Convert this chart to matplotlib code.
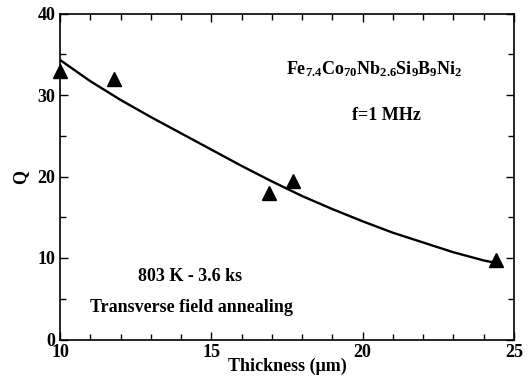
import matplotlib
matplotlib.use("Agg")
import matplotlib.pyplot as plt
from matplotlib.ticker import MultipleLocator

plt.rcParams['font.family'] = ['Liberation Serif', 'DejaVu Serif']
plt.rcParams['font.weight'] = 'bold'
plt.rcParams['mathtext.fontset'] = 'custom'
plt.rcParams['mathtext.rm'] = 'Liberation Serif:bold'
plt.rcParams['mathtext.it'] = 'Liberation Serif:bold'
plt.rcParams['mathtext.bf'] = 'Liberation Serif:bold'
plt.rcParams['mathtext.default'] = 'rm'

# measured points
thickness = [10.0, 11.8, 16.9, 17.7, 24.4]
q_values = [33.0, 32.0, 18.0, 19.5, 9.8]

# fitted curve
fit_x = [10, 11, 12, 13, 14, 15, 16, 17, 18, 19, 20, 21, 22, 23, 24, 24.4]
fit_y = [34.3, 31.7, 29.4, 27.3, 25.3, 23.3, 21.3, 19.4, 17.6, 16.0, 14.5, 13.1, 11.9, 10.7, 9.7, 9.4]

fig = plt.figure(figsize=(5.30, 3.77), dpi=100)
ax = fig.add_axes([60/530, 1-339.5/377, (514-60)/530, (339.5-13.5)/377])

ax.plot(fit_x, fit_y, color='black', lw=1.7, solid_joinstyle='round')
ax.plot(thickness, q_values, linestyle='none', marker='^', color='black', markersize=10, clip_on=False)

ax.set_xlim(10, 25)
ax.set_ylim(0, 40)
ax.xaxis.set_major_locator(MultipleLocator(5))
ax.xaxis.set_minor_locator(MultipleLocator(1))
ax.yaxis.set_major_locator(MultipleLocator(10))
ax.yaxis.set_minor_locator(MultipleLocator(5))
ax.tick_params(which='both', direction='in', top=True, right=True, labelsize=13, width=1)
ax.tick_params(which='major', length=6)
ax.tick_params(which='minor', length=4)
for s in ax.spines.values():
    s.set_linewidth(1.2)

ax.set_xlabel('Thickness (μm)', fontsize=13, fontweight='bold', labelpad=-3)
ax.set_ylabel('Q', fontsize=13, fontweight='bold', labelpad=6)

ax.text(20.4, 33.2, r'Fe$_{7.4}$Co$_{70}$Nb$_{2.6}$Si$_9$B$_9$Ni$_2$', fontsize=13, ha='center', va='center')
ax.text(20.8, 27.5, 'f=1 MHz', fontsize=13, ha='center', va='center')
ax.text(14.3, 7.7, '803 K - 3.6 ks', fontsize=13, ha='center', va='center')
ax.text(11.0, 3.9, 'Transverse field annealing', fontsize=13, ha='left', va='center')

fig.savefig('out.png', dpi=100)
